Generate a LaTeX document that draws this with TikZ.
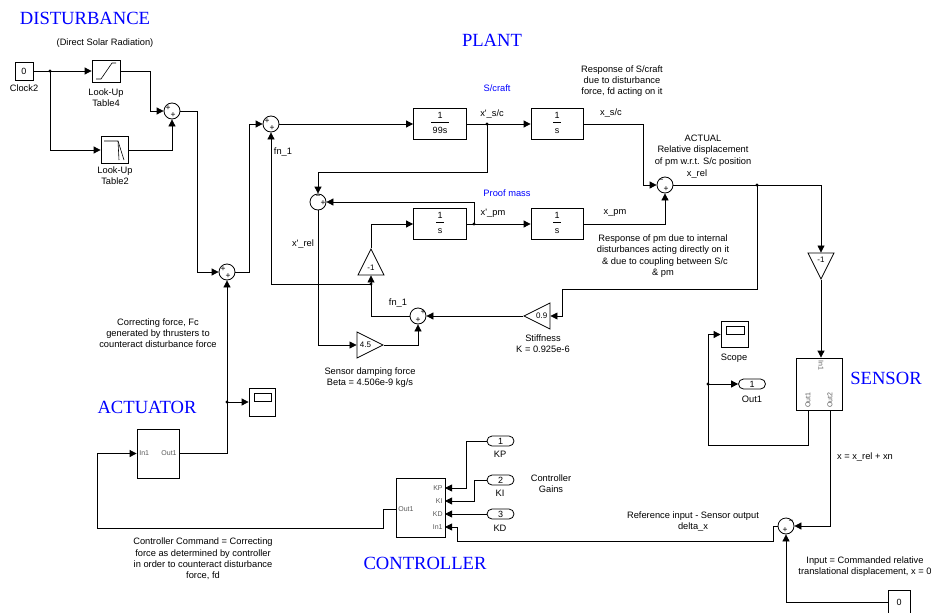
\documentclass[tikz,border=0pt]{standalone}
\usepackage{fontspec}
\setmainfont{Liberation Sans}
\newfontfamily\ttlfont{Liberation Serif}
\usepackage{tikz}
\usetikzlibrary{arrows.meta}
\usetikzlibrary{shapes.geometric}
\tikzset{%
    blk/.style={draw, inner sep=0pt, minimum width=53, minimum height=31, font=\fontsize{9}{10}\selectfont},
    box/.style={draw, inner sep=0pt, font=\fontsize{9}{10}\selectfont},
    sum/.style={draw, circle, inner sep=0pt, minimum size=16},
    sgn/.style={inner sep=0pt, font=\fontsize{8.5}{8.5}\selectfont},
    gain/.style={draw, isosceles triangle, isosceles triangle stretches, inner sep=0pt, minimum width=26, minimum height=26, font=\fontsize{8}{8}\selectfont},
    port/.style={draw, rounded corners=5pt, minimum width=27, minimum height=10, inner sep=0pt, font=\fontsize{9}{9}\selectfont},
    plbl/.style={inner sep=1pt, text=black!65, font=\fontsize{7}{7}\selectfont},
    note/.style={align=center, inner sep=0pt, font=\fontsize{9.3}{11.3}\selectfont},
    ttl/.style={inner sep=0pt, text=blue, font=\ttlfont\fontsize{18.6}{20}\selectfont},
    blu/.style={inner sep=0pt, text=blue, font=\fontsize{9.3}{11}\selectfont},
    scope/.style={draw, inner sep=0pt, path picture={\draw ([xshift=5pt,yshift=-5pt]path picture bounding box.north west) rectangle ([xshift=-4pt,yshift=-13pt]path picture bounding box.north east);}},
    sig/.style={-{Triangle[length=7pt,width=7pt]}},
    dot/.style={circle, fill, inner sep=0pt, minimum size=3.4}
}

\begin{document}
\begin{tikzpicture}[x=1pt, y=-1pt, line width=0.8pt]
        \useasboundingbox (0,0) rectangle (932,613);

        % titles
        \node[ttl] (tdist) at (85,18) {DISTURBANCE};
        \node[ttl] (tplant) at (492,40) {PLANT};
        \node[ttl] (tact) at (147,407) {ACTUATOR};
        \node[ttl] (tsens) at (886,378) {SENSOR};
        \node[ttl] (tctl) at (425,563) {CONTROLLER};

        % disturbance
        \node[note] (tsolar) at (105,43) {(Direct Solar Radiation)};
        \node[box, minimum width=18, minimum height=18] (clk) at (24,71) {0};
        \node[note] (tclk) at (24,88) {Clock2};
        \node[box, minimum width=28, minimum height=22] (lut4) at (106,71) {};
        \draw[line width=0.6pt] (96,79) -- (101,79) -- (112,63) -- (116,63);
        \node[note] (tlut4) at (106,97.5) {Look-Up\\Table4};
        \node[box, minimum width=27, minimum height=27] (lut2) at (114.5,150) {};
        \draw[line width=0.6pt] (104,141) -- (118,141) -- (124,160);
        \draw[line width=0.6pt] (118,141) -- (119,160);
        \node[note] (tlut2) at (115,176) {Look-Up\\Table2};
        \node[sum] (s1) at (172,111) {};
        \node[sgn] at (168,108) {+};
        \node[sgn] at (173,115) {+};
        \node[dot] (j1) at (50,71) {};

        \draw[sig] (clk.east) -- (lut4.west);
        \draw[sig] (j1.center) |- (lut2.west);
        \draw[sig] (lut4.east) -- (150,71) |- (s1.west);
        \draw[sig] (lut2.east) -| (s1.south);

        % plant
        \node[sum] (s3) at (227,272) {};
        \node[sgn] at (223,269) {+};
        \node[sgn] at (228,276) {+};
        \node[sum] (s2) at (271,124) {};
        \node[sgn] at (267,121) {+};
        \node[sgn] at (272,128) {+};
        \node[blk] (b99) at (440,124) {\begin{tabular}{@{\,}c@{\,}}1\\\hline\rule{0pt}{11pt}99s\end{tabular}};
        \node[blk, minimum width=52] (bvs) at (557,124) {\begin{tabular}{@{\,}c@{\,}}1\\\hline\rule{0pt}{11pt}s\end{tabular}};
        \node[blk] (bvp) at (440,224) {\begin{tabular}{@{\,}c@{\,}}1\\\hline\rule{0pt}{11pt}s\end{tabular}};
        \node[blk, minimum width=52] (bpp) at (557,224) {\begin{tabular}{@{\,}c@{\,}}1\\\hline\rule{0pt}{11pt}s\end{tabular}};
        \node[sum] (sv) at (318,202) {};
        \node[sgn] at (318,197) {−};
        \node[sgn] at (323,203) {+};
        \node[sum] (s4) at (418,316) {};
        \node[sgn] at (423,312) {+};
        \node[sgn] at (418,320) {+};
        \node[sum] (s5) at (665,185) {};
        \node[sgn] at (661,181) {−};
        \node[sgn] at (666,189) {+};
        \node[gain, shape border rotate=90, anchor=apex] (g1) at (371,248) {-1};
        \node[gain, anchor=apex] (g45) at (384,345) {4.5};
        \node[gain, shape border rotate=180, anchor=apex] (g09) at (523,316) {0.9};
        \node[dot] (j2) at (487,124) {};
        \node[dot] (j3) at (474,224) {};
        \node[dot] (j4) at (757,185) {};
        \node[dot] (j6) at (371,284) {};

        \node[blu] (tcraft) at (497,88) {S/craft};
        \node[blu] (tpm) at (507,193) {Proof mass};
        \node[note] (tvsc) at (492,114) {x\textquotesingle\_s/c};
        \node[note] (tsc) at (611,113) {x\_s/c};
        \node[note] (tvpm) at (493,213) {x\textquotesingle\_pm};
        \node[note] (tpmx) at (615,213) {x\_pm};
        \node[note] (txrel) at (697,174) {x\_rel};
        \node[note] (tfn1) at (283,152) {fn\_1};
        \node[note] (tvrel) at (303,244) {x\textquotesingle\_rel};
        \node[note] (tfn2) at (398,303) {fn\_1};
        \node[note] (trsc) at (622,81) {Response of S/craft\\due to disturbance\\force, fd acting on it};
        \node[note] (tactual) at (703,150.5) {ACTUAL\\Relative displacement\\of pm w.r.t. S/c position};
        \node[note] (trpm) at (663,256) {Response of pm due to internal\\disturbances acting directly on it\\\hspace*{4pt}\& due to coupling between S/c\\\& pm};
        \node[note] (tstiff) at (543,343.5) {Stiffness\\K = 0.925e-6};
        \node[note] (tdamp) at (370,377.5) {Sensor damping force\\Beta = 4.506e-9 kg/s};

        \draw[sig] (s1.east) -- (197,111) |- (s3.west);
        \draw[sig] (s3.east) -- (249,272) |- (s2.west);
        \draw[sig] (s2.east) -- (b99.west);
        \draw[sig] (b99.east) -- (bvs.west);
        \draw[sig] (j2.center) -- (487,172) -| (sv.north);
        \draw[sig] (bvp.east) -- (bpp.west);
        \draw[sig] (j3.center) |- (sv.east);
        \draw[sig] (bvs.east) -- (643,124) |- (s5.west);
        \draw[sig] (bpp.east) -| (s5.south);
        \draw[sig] (j4.center) -- (757,289) -| (562,316) -- (g09.lower side);
        \draw[sig] (g09.apex) -- (s4.east);
        \draw[sig] (s4.west) -| (g1.lower side);
        \draw[sig] (j6.center) -| (s2.south);
        \draw[sig] (g1.apex) |- (bvp.west);
        \draw[sig] (sv.south) |- (g45.lower side);
        \draw[sig] (g45.apex) -| (s4.south);

        % sensor
        \node[gain, shape border rotate=-90, anchor=apex] (gs) at (821,280) {-1};
        \node[box, minimum width=46, minimum height=52] (sens) at (819,384) {};
        \node[plbl, rotate=-90, anchor=west] (tsin) at (821,359) {In1};
        \node[plbl, rotate=90, anchor=west] (tso1) at (808,409) {Out1};
        \node[plbl, rotate=90, anchor=west] (tso2) at (830,409) {Out2};
        \coordinate (so1) at (808,410);
        \coordinate (so2) at (830,410);
        \node[scope, minimum width=27, minimum height=26] (scp) at (734.5,334.5) {};
        \node[note] (tscp) at (734,358) {Scope};
        \node[port] (out1) at (752,384) {1};
        \node[note] (tout1) at (752,399) {Out1};
        \node[dot] (j7) at (708,384) {};
        \node[sum] (s6) at (786,526) {};
        \node[sgn] at (791,522) {−};
        \node[sgn] at (785,530) {+};
        \node[box, minimum width=22, minimum height=23] (cst) at (899,602) {0};
        \node[note] (txn) at (865,457) {x = x\_rel + xn};
        \node[note] (tinput) at (865,566.5) {Input = Commanded relative\\translational displacement, x = 0};
        \node[note] (tref) at (693,521.5) {Reference input - Sensor output\\delta\_x};

        \draw[sig] (s5.east) -| (gs.lower side);
        \draw[sig] (gs.apex) -- (gs.apex |- sens.north);
        \draw[sig] (so1) -- (808,445) -- (708,445) |- (scp.west);
        \draw[sig] (j7.center) -- (out1.west);
        \draw[sig] (so2) |- (s6.east);
        \draw[sig] (cst.west) -| (s6.south);

        % controller
        \node[box, minimum width=49, minimum height=59] (ctl) at (420.5,507.5) {};
        \node[plbl, anchor=east] (tkp) at (444,488) {KP};
        \node[plbl, anchor=east] (tki) at (444,501) {KI};
        \node[plbl, anchor=east] (tkd) at (444,514) {KD};
        \node[plbl, anchor=east] (tin1) at (444,527) {In1};
        \node[plbl, anchor=west] (tout) at (397,509) {Out1};
        \coordinate (ckp) at (445,488);
        \coordinate (cki) at (445,501);
        \coordinate (ckd) at (445,514);
        \coordinate (cin) at (445,527);
        \coordinate (cout) at (396,509);
        \node[port] (kp) at (500.5,441) {1};
        \node[note] (tkpn) at (500,454) {KP};
        \node[port] (ki) at (500.5,480) {2};
        \node[note] (tkin) at (500,493) {KI};
        \node[port] (kd) at (500.5,514) {3};
        \node[note] (tkdn) at (500,528) {KD};
        \node[note] (tgains) at (551,483.5) {Controller\\Gains};
        \node[note] (tcmd) at (203,559) {Controller Command = Correcting\\force as determined by controller\\in order to counteract disturbance\\force, fd};

        \draw[sig] (kp.west) -- (466,441) |- (ckp);
        \draw[sig] (ki.west) -- (474,480) |- (cki);
        \draw[sig] (kd.west) -- (ckd);
        \draw[sig] (s6.west) -- (773,526) -- (773,541) -- (457,541) |- (cin);

        % actuator
        \node[box, minimum width=42, minimum height=49] (act) at (158,453.5) {};
        \node[plbl, anchor=west] (tain) at (138,453) {In1};
        \node[plbl, anchor=east] (taout) at (178,453) {Out1};
        \node[scope, minimum width=26, minimum height=28] (scp2) at (262,402) {};
        \node[dot] (j8) at (227,402) {};
        \node[note] (tfc) at (158,333) {Correcting force, Fc\\generated by thrusters to\\counteract disturbance force};

        \draw[sig] (cout) -- (383,509) -- (383,528) -- (97,528) |- (act.west);
        \draw[sig] (act.east) -| (s3.south);
        \draw[sig] (j8.center) -- (scp2.west);
    \end{tikzpicture}
\end{document}
